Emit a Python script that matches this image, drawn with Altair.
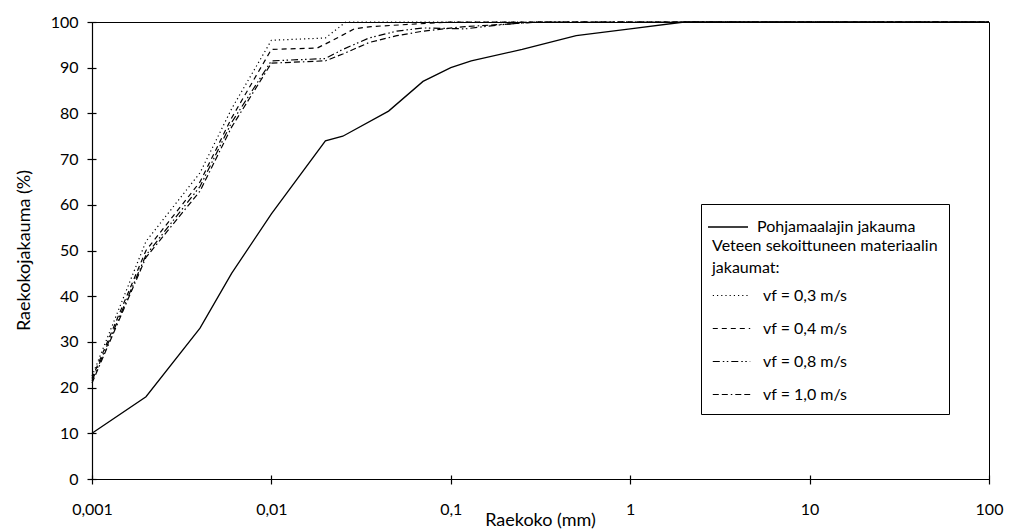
import altair as alt
import pandas as pd

# ---- data ----
base_name = "Pohjamaalajin jakauma"
x_base = [0.001, 0.002, 0.004, 0.006, 0.01, 0.02, 0.025, 0.045, 0.07, 0.1, 0.13, 0.25, 0.5, 1.0, 2.0, 100]
y_base = [10, 18, 33, 45, 58, 74, 75, 80.5, 87, 90, 91.5, 94, 97, 98.5, 100, 100]

mix_labels = ["vf = 0,3 m/s", "vf = 0,4 m/s", "vf = 0,8 m/s", "vf = 1,0 m/s"]

x_03 = [0.001, 0.002, 0.004, 0.006, 0.01, 0.02, 0.026, 100]
y_03 = [22.5, 52, 67, 81, 96, 96.5, 100, 100]

x_04 = [0.001, 0.002, 0.004, 0.006, 0.01, 0.018, 0.022, 0.029, 0.036, 0.1, 100]
y_04 = [22, 50, 65, 79, 94, 94.3, 96, 98.5, 99, 100, 100]

x_08 = [0.001, 0.002, 0.004, 0.006, 0.01, 0.02, 0.025, 0.035, 0.05, 0.07, 0.12, 0.2, 0.3, 100]
y_08 = [21.5, 49, 64, 78, 91.5, 92, 94, 96.5, 98, 98.7, 98.5, 99.5, 100, 100]

x_10 = [0.001, 0.002, 0.004, 0.006, 0.01, 0.02, 0.025, 0.035, 0.05, 0.07, 0.12, 0.2, 0.3, 100]
y_10 = [21, 48.5, 63, 77, 91, 91.5, 93, 95.5, 97, 98, 99, 99.5, 100, 100]

x_ticks = [0.001, 0.01, 0.1, 1, 10, 100]
y_ticks = [0, 10, 20, 30, 40, 50, 60, 70, 80, 90, 100]

# ---- tables ----
base_df = pd.DataFrame({"x": x_base, "y": y_base, "serie": base_name})
mix_df = pd.concat(
    [
        pd.DataFrame({"x": xs, "y": ys, "serie": lab})
        for xs, ys, lab in zip([x_03, x_04, x_08, x_10], [y_03, y_04, y_08, y_10], mix_labels)
    ],
    ignore_index=True,
)

dashes = [[1.2, 3], [5, 4], [7, 3, 1.5, 2.5, 1.5, 3], [6, 3, 6, 3, 1.5, 3]]

xscale = alt.Scale(type="log", domain=[0.001, 100])
yscale = alt.Scale(domain=[0, 100], nice=False, zero=True)

x_axis = alt.Axis(
    values=x_ticks,
    labelExpr="replace(format(datum.value, ''), '.', ',')",
    title="Raekoko (mm)",
    grid=False,
    tickSize=5,
    labelPadding=17,
    titleX=448,
    titleY=41,
    titleBaseline="middle",
    titleAlign="center",
    labelFlush=False,
)
y_axis = alt.Axis(
    values=y_ticks,
    title="Raekokojakauma (%)",
    grid=False,
    tickSize=5,
    labelPadding=9,
    titleX=-68,
    titleY=228,
    titleAngle=-90,
    titleBaseline="middle",
    titleAlign="center",
)

base = alt.Chart(base_df).mark_line(strokeWidth=1.3).encode(
    x=alt.X("x:Q", scale=xscale, axis=x_axis),
    y=alt.Y("y:Q", scale=yscale, axis=y_axis),
    color=alt.Color(
        "serie:N",
        scale=alt.Scale(domain=[base_name], range=["black"]),
        legend=alt.Legend(
            title=None,
            orient="none",
            legendX=615,
            legendY=184,
            symbolType="stroke",
            symbolSize=1600,
            symbolStrokeWidth=1.3,
            labelOffset=8,
            padding=0,
        ),
    ),
)

mix = alt.Chart(mix_df).mark_line(color="black", strokeWidth=1.2).encode(
    x=alt.X("x:Q", scale=xscale, axis=x_axis),
    y=alt.Y("y:Q", scale=yscale, axis=y_axis),
    strokeDash=alt.StrokeDash(
        "serie:N",
        scale=alt.Scale(domain=mix_labels, range=dashes),
        legend=alt.Legend(
            title=["", "Veteen sekoittuneen materiaalin", "jakaumat:"],
            titleLineHeight=22.5,
            titlePadding=0,
            orient="none",
            legendX=609,
            legendY=182,
            symbolType="stroke",
            symbolSize=1400,
            symbolStrokeWidth=1.2,
            symbolStrokeColor="black",
            labelOffset=12,
            padding=11,
            rowPadding=5,
            strokeColor="black",
            titleLimit=320,
        ),
    ),
)

# inner half of the crossing tick marks
ticks = alt.Chart(base_df).mark_line(opacity=0).encode(
    x=alt.X(
        "x:Q",
        scale=xscale,
        axis=alt.Axis(orient="bottom", offset=-4, tickSize=4, labels=False, domain=False,
                      grid=False, title=None, values=x_ticks),
    ),
    y=alt.Y(
        "y:Q",
        scale=yscale,
        axis=alt.Axis(orient="left", offset=-4, tickSize=4, labels=False, domain=False,
                      grid=False, title=None, values=y_ticks),
    ),
)

chart = (
    alt.layer(alt.layer(base, mix), ticks)
    .resolve_scale(x="independent", y="independent")
    .properties(
        width=897,
        height=457,
        autosize=alt.AutoSizeParams(type="none"),
        padding={"left": 84, "top": 14, "right": 15, "bottom": 50},
        background="white",
    )
    .configure_view(stroke="black", strokeWidth=1)
    .configure_axis(
        labelFont="Lato",
        labelFontSize=16,
        labelColor="black",
        titleFont="Lato",
        titleFontSize=18,
        titleFontWeight="normal",
        titleColor="black",
        domainColor="black",
        domainWidth=1.2,
        tickColor="black",
        tickWidth=1.2,
    )
    .configure_legend(
        labelFont="Lato",
        labelFontSize=16,
        labelColor="black",
        titleFont="Lato",
        titleFontSize=16,
        titleFontWeight="normal",
        titleColor="black",
    )
)

chart.save("out.html", embed_options={"renderer": "svg", "actions": False})
